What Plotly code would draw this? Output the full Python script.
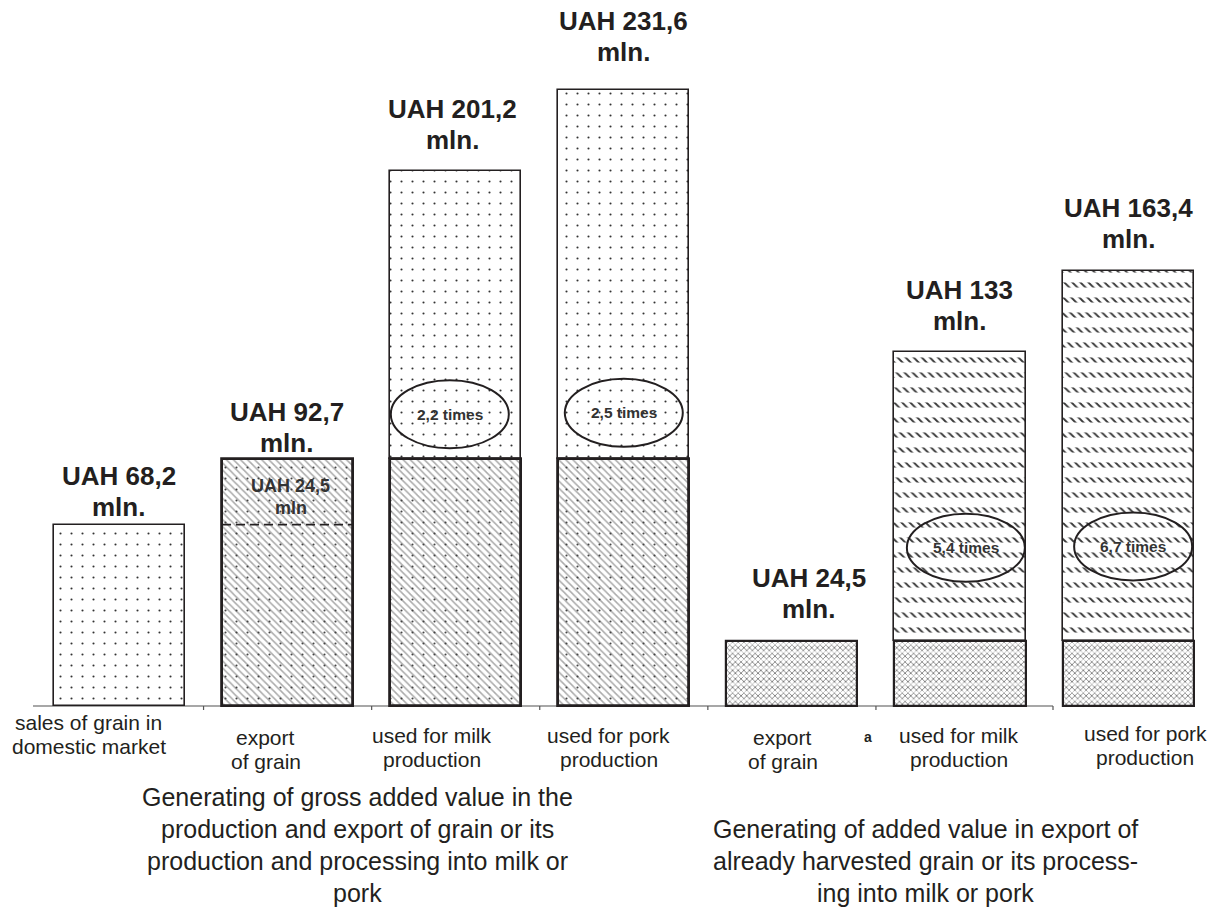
import plotly.graph_objects as go

# ---------------- data ----------------
categories = ["sales of grain in<br>domestic market", "export<br>of grain",
              "used for milk<br>production", "used for pork<br>production",
              "export<br>of grain", "used for milk<br>production",
              "used for pork<br>production"]
totals = [68.2, 92.7, 201.2, 231.6, 24.5, 133, 163.4]          # UAH mln
lower_segment = [0, 92.7, 92.7, 92.7, 24.5, 24.5, 24.5]          # export value part
domestic_value = 68.2                                            # dashed line in bar 2
export_added = 24.5                                              # label inside bar 2
ratio_values = [2.2, 2.5, 5.4, 6.7]
ratio_bars = [2, 3, 5, 6]
group_titles = ["Generating of gross added value in the<br>production and export of grain or its<br>"
                "production and processing into milk or<br>pork",
                "Generating of added value in export of<br>already harvested grain or its process-<br>"
                "ing into milk or pork"]

def fmt(v):
    return f"{v:g}".replace(".", ",")

# ---------------- layout constants ----------------
W, H = 1208, 922
X0, DX = 119.5, 168.1      # pixel of category 0, pixels per category
Y0, K = 706.0, 2.66        # pixel of value 0, pixels per unit
BOTTOM = 206
PLOT_H = H - BOTTOM
BAR_W = 0.78
INK = "#231f20"
FONT = "Liberation Sans, Arial, sans-serif"

def dx(p):
    return (p - X0) / DX

def dy(p):
    return (Y0 - p) / K

def px_x(p):
    return p / W

def px_y(p):
    return (PLOT_H - p) / PLOT_H

n = len(totals)
idx = list(range(n))
left_upper = [0, 2, 3]
left_lower = [1, 2, 3]
right_lower = [4, 5, 6]
right_upper = [5, 6]

def seg(ids, upper):
    xs, bases, hs = [], [], []
    for i in ids:
        xs.append(i)
        if upper:
            bases.append(lower_segment[i])
            hs.append(totals[i] - lower_segment[i])
        else:
            bases.append(0)
            hs.append(lower_segment[i])
    return xs, bases, hs

fig = go.Figure()

def add_fill(ids, upper, shape, fg, size, sol, bg="white"):
    xs, bases, hs = seg(ids, upper)
    fig.add_trace(go.Bar(
        x=xs, y=hs, base=bases, width=BAR_W, hoverinfo="skip", showlegend=False,
        marker=dict(color=bg, line=dict(width=0),
                    pattern=dict(shape=shape, fgcolor=fg, bgcolor=bg, size=size,
                                 solidity=sol, fgopacity=1))))

def add_outline(ids, upper, lw):
    xs, bases, hs = seg(ids, upper)
    fig.add_trace(go.Bar(
        x=xs, y=hs, base=bases, width=BAR_W, hoverinfo="skip", showlegend=False,
        marker=dict(color="rgba(0,0,0,0)", line=dict(width=lw, color=INK))))

# dotted parts
add_fill(left_upper, True, ".", "#333333", 11, 0.03)
# hatched + dotted lower left parts
add_fill(left_lower, False, "\\", "#ababab", 5, 0.3)
add_fill(left_lower, False, ".", "#444444", 11, 0.03, bg="rgba(0,0,0,0)")
# dense grey lower right parts
add_fill(right_lower, False, "x", "#7d7d7d", 4, 0.4)
add_fill(right_lower, False, "-", "rgba(255,255,255,0.55)", 8, 0.35, bg="rgba(0,0,0,0)")
# rows of short diagonal dashes
add_fill(right_upper, True, "\\", "#3a3a3a", 5.7, 0.33)
add_fill(right_upper, True, "-", "white", 15, 0.66, bg="rgba(0,0,0,0)")

# outlines
add_outline(left_upper, True, 1.6)
add_outline(left_lower, False, 2.8)
add_outline(right_lower, False, 2.2)
add_outline(right_upper, True, 1.6)

shapes = []
# baseline axis
shapes.append(dict(type="line", xref="x", yref="y", x0=dx(33), x1=dx(1053), y0=0, y1=0,
                   line=dict(color="#8a8a8a", width=1.5), layer="below"))
for t in [0.5, 1.5, 2.5, 3.5, 4.5, dx(1053)]:
    shapes.append(dict(type="line", xref="x", yref="y", x0=t, x1=t, y0=0, y1=dy(710),
                       line=dict(color="#555555", width=1.2)))
# dashed line in bar 2
shapes.append(dict(type="line", xref="x", yref="y", x0=1 - BAR_W / 2, x1=1 + BAR_W / 2,
                   y0=domestic_value, y1=domestic_value,
                   line=dict(color=INK, width=1.6, dash="9px,5px")))

annotations = []

def text_line(x, y, txt, size, bold=False, color=INK, xref="x", yref="y", xshift=0, yshift=0):
    f = dict(family=FONT, size=size, color=color)
    if bold:
        f["weight"] = "bold"
    annotations.append(dict(x=x, y=y, xref=xref, yref=yref, text=txt, showarrow=False,
                            xanchor="center", yanchor="middle", xshift=xshift, yshift=yshift,
                            font=f))

# value labels: gap (px) from bar top to the baseline of "mln."
VAL_SIZE = 26
val_gap = [8, 7, 22, 29, 23, 22, 23]
val_xshift = [-1, -1, -3, 0, 17, -1, 0]
for i in idx:
    base = val_gap[i] + 0.35 * VAL_SIZE
    text_line(i, totals[i], "mln.", VAL_SIZE, True, xshift=val_xshift[i], yshift=base)
    text_line(i, totals[i], f"UAH {fmt(totals[i])}", VAL_SIZE, True,
              xshift=val_xshift[i], yshift=base + 31)

# label inside bar 2
mid = (domestic_value + totals[1]) / 2
text_line(1, mid, f"UAH {fmt(export_added)}", 18, True, "#333333", xshift=3, yshift=6)
text_line(1, mid, "mln", 18, True, "#333333", xshift=3, yshift=-16)

# ratio ellipses
ell_dx = [-0.035, 0.0, 0.035, 0.03]
ell_dy = [17.0, 17.5, 35.0, 35.5]
RX, RY = 59 / DX, 34 / K
for j, b in enumerate(ratio_bars):
    cx = b + ell_dx[j]
    cy = lower_segment[b] + ell_dy[j]
    shapes.append(dict(type="circle", xref="x", yref="y", x0=cx - RX, x1=cx + RX,
                       y0=cy - RY, y1=cy + RY, line=dict(color=INK, width=2)))
    text_line(cx, cy, f"{fmt(ratio_values[j])} times", 15.5, True, "#333333")

# category labels (two lines each)
CAT_SIZE = 21
cat_xshift = [-31, -22, -24, -15, -9, -1, 17]
cat_first = [722, 737, 735, 735, 737, 735, 733]   # px centre of first line
for i in idx:
    for k, line in enumerate(categories[i].split("<br>")):
        p = cat_first[i] + 24 * k
        text_line(i, 0, line, CAT_SIZE, xshift=cat_xshift[i], yshift=-(p - Y0))

# stray glyph
text_line(px_x(868), px_y(737), "a", 14, True, xref="paper", yref="paper")

# group titles
TITLE_SIZE = 25
title_cx = [357, 925]
title_last = [893, 893]
for g, t in enumerate(group_titles):
    lines = t.split("<br>")
    for k, line in enumerate(lines):
        p = title_last[g] - 32 * (len(lines) - 1 - k)
        text_line(px_x(title_cx[g]), px_y(p), line, TITLE_SIZE, xref="paper", yref="paper")

fig.update_layout(
    width=W, height=H, autosize=False,
    margin=dict(l=0, r=0, t=0, b=BOTTOM, pad=0),
    paper_bgcolor="white", plot_bgcolor="white",
    barmode="overlay", bargap=0,
    xaxis=dict(range=[dx(0), dx(W)], visible=False, fixedrange=True),
    yaxis=dict(range=[dy(Y0 + 10), dy(0)], visible=False, fixedrange=True),
    shapes=shapes, annotations=annotations, showlegend=False,
)

fig.write_html("out.html")
